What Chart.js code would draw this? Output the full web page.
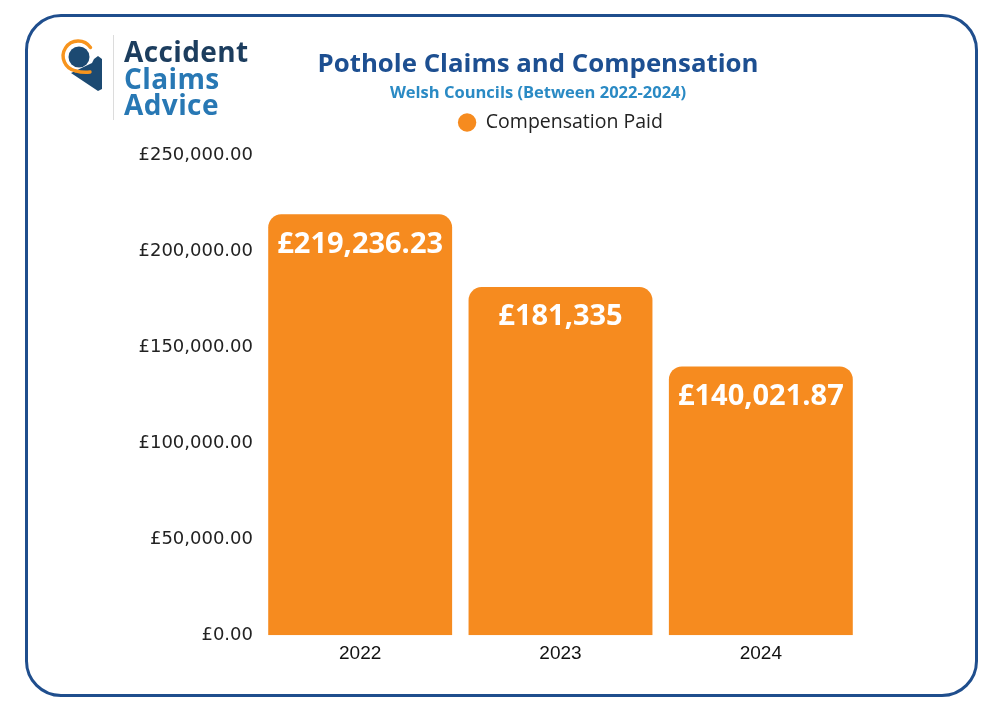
<!DOCTYPE html>
<html>
<head>
<meta charset="utf-8">
<script src="https://cdn.jsdelivr.net/npm/chart.js@4.4.1/dist/chart.umd.min.js"></script>
<style>
  html, body { margin: 0; padding: 0; background: #fff; }
  body { width: 1000px; height: 711px; position: relative; overflow: hidden; }
  #frame {
    position: absolute; left: 25px; top: 14px; width: 953px; height: 683px;
    box-sizing: border-box; border: 3px solid #1f4e8d; border-radius: 36px;
  }
  #chartBox { position: absolute; left: 0; top: 0; width: 1000px; height: 711px; }
  #logo { position: absolute; left: 0; top: 0; z-index: 2; }
  #logoSep { position: absolute; left: 113px; top: 35px; width: 1px; height: 85px; background: #dcdcdc; }
  #logoText {
    position: absolute; left: 124px; top: 38px; font-family: "Open Sans", sans-serif;
    font-weight: 700; font-size: 28px; line-height: 26.5px; letter-spacing: 0.4px;
  }
  #logoText .a { color: #1c3d5e; }
  #logoText .b { color: #2878b4; }
</style>
</head>
<body>
<div id="frame"></div>
<div id="logo">
  <svg width="110" height="110" style="position:absolute;left:0;top:0">
    <polygon points="71,73 92,63 94,59 98,56 102,59 102,89 98,91" fill="#1c4a72"/>
    <circle cx="79" cy="57" r="10.5" fill="#1c4a72"/>
    <path d="M 90.5 47.5 A 15 15 0 1 0 75.5 70.8" fill="none" stroke="#f7941d" stroke-width="3.4" stroke-linecap="round"/>
    <path d="M 75.5 70.8 Q 83 73 90 72" fill="none" stroke="#f7941d" stroke-width="3.4" stroke-linecap="round"/>
  </svg>
  <div id="logoSep"></div>
  <div id="logoText"><span class="a">Accident</span><br><span class="b">Claims</span><br><span class="b">Advice</span></div>
</div>
<div id="chartBox"><canvas id="myChart" width="1000" height="711"></canvas></div>
<script>
// data
const years = ['2022', '2023', '2024'];
const compensationPaid = [219236.23, 181335, 140021.87];
const yTicks = [0, 50000, 100000, 150000, 200000, 250000];

function money(v) {
    // whole pounds shown without pence, like the original labels
    if (v % 1 === 0) return '£' + v.toLocaleString('en-GB');
    return '£' + v.toLocaleString('en-GB', {minimumFractionDigits: 2, maximumFractionDigits: 2});
}

// push legend up a bit so there's a gap before the plot
const legendGap = {
    id: 'legendGap',
    afterInit(chart) {
        const fit = chart.legend.fit;
        chart.legend.fit = function () {
            fit.bind(chart.legend)();
            this.height += 13;
        };
    }
};

// white values inside the top of each bar
const barValues = {
    id: 'barValues',
    afterDatasetsDraw(chart) {
        const ctx = chart.ctx;
        const meta = chart.getDatasetMeta(0);
        ctx.save();
        ctx.fillStyle = '#ffffff';
        ctx.font = 'bold 29px "Open Sans"';
        ctx.textAlign = 'center';
        ctx.textBaseline = 'middle';
        meta.data.forEach(function (bar, i) {
            ctx.fillText(money(chart.data.datasets[0].data[i]), bar.x, bar.y + 30);
        });
        ctx.restore();
    }
};

const ctx = document.getElementById('myChart').getContext('2d');
const myChart = new Chart(ctx, {
    type: 'bar',
    data: {
        labels: years,
        datasets: [{
            label: 'Compensation Paid',
            data: compensationPaid,
            backgroundColor: '#f68b1f',
            borderRadius: 13,
            categoryPercentage: 1,
            barPercentage: 0.918
        }]
    },
    options: {
        responsive: false,
        animation: false,
        layout: { padding: { left: 120, right: 44, top: 39, bottom: 39 } },
        plugins: {
            title: {
                display: true,
                text: 'Pothole Claims and Compensation',
                color: '#1d4f91',
                font: { family: 'Open Sans', size: 25.8, weight: 'bold' },
                padding: { top: 10, bottom: 3 }
            },
            subtitle: {
                display: true,
                text: 'Welsh Councils (Between 2022-2024)',
                color: '#2a8ac4',
                font: { family: 'Open Sans', size: 16.5, weight: 'bold' },
                padding: { top: 0, bottom: 0 }
            },
            legend: {
                display: true,
                fullSize: false,
                labels: {
                    usePointStyle: true,
                    pointStyle: 'circle',
                    boxWidth: 18,
                    boxHeight: 13,
                    padding: 10,
                    color: '#222',
                    font: { family: 'Open Sans', size: 19.5 }
                }
            },
            tooltip: { enabled: false }
        },
        scales: {
            x: {
                grid: { display: false, drawTicks: false },
                border: { display: false },
                ticks: { color: '#111', padding: 7, font: { family: 'Liberation Sans', size: 19 } }
            },
            y: {
                min: 0,
                max: yTicks[yTicks.length - 1],
                afterFit(scale) { scale.width = 140; },
                afterBuildTicks(scale) { scale.ticks = yTicks.map(v => ({value: v})); },
                grid: { display: false, drawTicks: false },
                border: { display: false },
                ticks: {
                    color: '#222',
                    padding: 7,
                    font: { family: 'DejaVu Sans', size: 18 },
                    callback: v => '£' + v.toLocaleString('en-GB', {minimumFractionDigits: 2})
                }
            },
            // empty right-hand margin so the titles centre where the original has them
            yPad: {
                type: 'linear',
                position: 'right',
                afterFit(scale) { scale.width = 95; },
                grid: { display: false, drawTicks: false },
                border: { display: false },
                ticks: { display: false }
            }
        }
    },
    plugins: [legendGap, barValues]
});
</script>
</body>
</html>
